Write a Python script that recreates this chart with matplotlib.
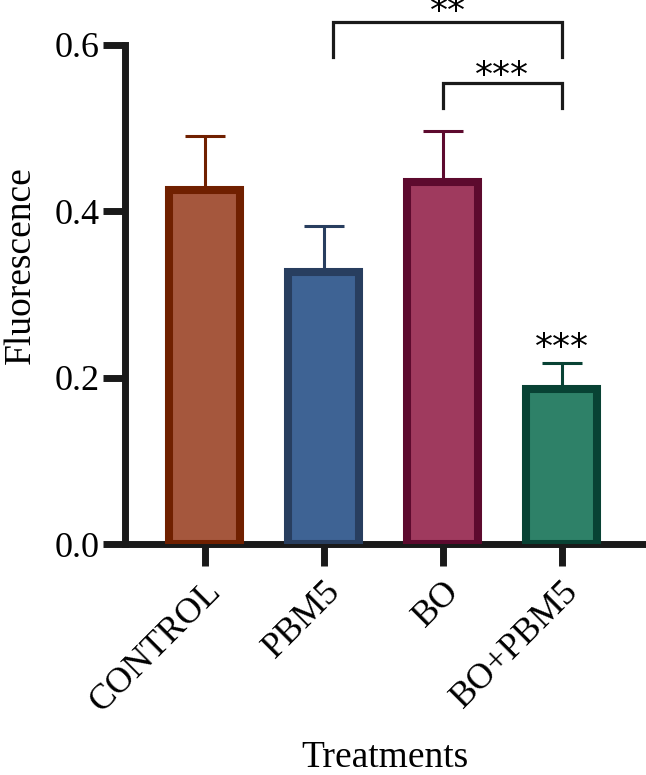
import matplotlib
matplotlib.use("Agg")
import matplotlib.pyplot as plt
import numpy as np

# data
groups = ["CONTROL", "PBM5", "BO", "BO+PBM5"]
means = [0.426, 0.327, 0.435, 0.186]
sd = [0.065, 0.055, 0.061, 0.032]
fills = ["#A5573D", "#3E6394", "#9F3A5E", "#2E8168"]
edges = ["#702000", "#283E5F", "#5D0A2E", "#084234"]
yticks = [0.0, 0.2, 0.4, 0.6]

# significance brackets: (x left, x right, top, leg bottom, label y, label)
brackets = [(1.08, 3.0, 0.628, 0.586, 0.640, "**"),
            (2.0, 3.0, 0.554, 0.524, 0.563, "***")]
star_over_bar = (3, 0.236, "***")

plt.rcParams['font.family'] = ['Liberation Serif', 'DejaVu Serif']

fig = plt.figure(figsize=(6.46, 7.75), dpi=100)
ax = fig.add_axes([0.1935, 0.298, 0.805, 0.644])

x = np.arange(len(groups))
ax.bar(x, means, width=0.6, color=fills, edgecolor=edges, linewidth=5.8, zorder=3)
for i in range(len(groups)):
    ax.errorbar(x[i], means[i], yerr=[[0], [sd[i]]], fmt='none', ecolor=edges[i],
                elinewidth=2.2, capsize=14.5, capthick=2.2, zorder=2)

ax.set_xlim(-0.67, 3.70)
ax.set_ylim(0, 0.6)
ax.set_yticks(yticks)
ax.set_yticklabels(["%.1f" % v for v in yticks])
ax.set_xticks(x)
ax.set_xticklabels(groups, rotation=45, ha='right', rotation_mode='anchor')

for s in ['top', 'right']:
    ax.spines[s].set_visible(False)
for s in ['left', 'bottom']:
    ax.spines[s].set_linewidth(5)
    ax.spines[s].set_color('#1a1a1a')
ax.tick_params(axis='both', width=5, length=16, color='#1a1a1a', labelsize=26)
ax.tick_params(axis='y', pad=2)
ax.tick_params(axis='x', pad=6)

ax.set_ylabel("Fluorescence", fontsize=27)
ax.yaxis.set_label_coords(-0.167, 0.559)
ax.set_xlabel("Treatments", fontsize=27, labelpad=16)

for x0, x1, top, bot, ly, lab in brackets:
    ax.plot([x0, x0, x1, x1], [bot, top, top, bot], color='#1a1a1a', lw=2.3,
            clip_on=False, solid_joinstyle='miter')
    ax.text((x0 + x1) / 2, ly, lab, ha='center', va='center',
            fontsize=26, family='DejaVu Sans', clip_on=False)

ax.text(star_over_bar[0], star_over_bar[1], star_over_bar[2], ha='center',
        va='center', fontsize=26, family='DejaVu Sans')

fig.savefig("out.png", dpi=100)
